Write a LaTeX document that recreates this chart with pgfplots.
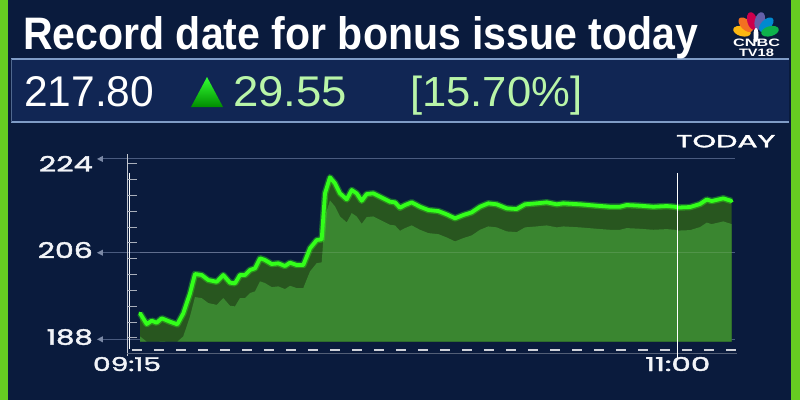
\documentclass[border=0pt]{standalone}
\usepackage{pgfplots}
\pgfplotsset{compat=1.18}
\usepackage{pgfplotstable}
\usepackage{graphicx}
\usepackage{fontspec}
\setmainfont{Liberation Sans}
\newfontfamily\geo[FakeBold=1.8]{Poppins}

\definecolor{navy}{HTML}{0A1B3D}
\definecolor{boxnavy}{HTML}{112654}
\definecolor{boxline}{HTML}{7F9CC6}
\definecolor{barg}{HTML}{66CC22}
\definecolor{lineg}{HTML}{33FF1A}
\definecolor{darkg}{HTML}{28561F}
\definecolor{fillg}{HTML}{3A8630}
\definecolor{paleg}{HTML}{B9F5A8}
\definecolor{gridc}{HTML}{5A6C90}
\definecolor{labc}{HTML}{F2F4F8}
\definecolor{nbcY}{HTML}{FCB711}
\definecolor{nbcO}{HTML}{F37021}
\definecolor{nbcR}{HTML}{CC004C}
\definecolor{nbcP}{HTML}{6460AA}
\definecolor{nbcB}{HTML}{0089D0}
\definecolor{nbcG}{HTML}{0DB14B}

% minutes after 09:15, price
\pgfplotstableread{
m v
2.48 193.41
3.76 191.18
4.71 191.87
5.66 191.45
6.62 192.37
8.20 191.66
9.59 191.12
10.73 193.41
12.01 197.56
12.96 201.58
14.24 201.37
15.50 200.33
17.10 199.96
18.36 201.37
19.64 199.77
20.59 199.64
21.54 201.37
22.50 201.37
23.45 202.41
24.40 202.76
25.36 204.84
26.31 204.49
27.59 203.65
28.85 203.80
30.12 203.24
31.08 203.93
32.35 203.45
33.61 203.45
34.89 206.92
36.17 208.64
37.12 208.79
37.75 218.35
38.70 221.68
39.66 220.43
40.61 218.35
41.89 217.10
42.84 219.04
43.79 218.35
44.75 216.81
45.70 218.21
46.96 218.35
48.24 217.65
50.14 216.61
51.10 216.48
52.05 215.36
53.00 215.92
54.28 216.48
55.86 215.57
57.45 214.88
59.35 214.67
60.95 213.98
62.54 213.16
64.12 213.84
65.72 214.40
67.30 215.57
68.88 216.27
70.49 216.07
72.39 215.23
74.30 215.09
75.88 216.07
78.11 216.27
80.02 216.48
81.93 216.07
83.18 216.27
86.37 216.07
89.55 215.78
92.09 215.57
93.99 215.57
95.27 215.92
97.81 215.78
100.34 215.57
102.90 215.71
104.48 215.57
105.05 215.40
107.34 215.50
109.25 216.13
110.52 217.06
111.48 216.75
113.69 217.31
115.29 216.75
}\price

\begin{document}
\begin{tikzpicture}[x=1pt,y=1pt]
\useasboundingbox (0,0) rectangle (800,400);
\fill[navy] (0,0) rectangle (800,400);
\fill[barg] (0,0) rectangle (8,400);
\fill[barg] (791,0) rectangle (800,400);

% price strip
\fill[boxnavy] (11,278) rectangle (789,341);
\draw[boxline, line width=1.2pt] (11,341) -- (789,341);
\draw[boxline, line width=1.5pt] (11,278) -- (789,278);
\draw[boxline!60!navy, line width=0.8pt] (11,278) -- (11,341);

% title
\node[anchor=base west, inner sep=0, text=white] at (23,351)
  {\resizebox{675pt}{33pt}{\bfseries Record date for bonus issue today}};

% price row
\node[anchor=base west, inner sep=0, text=white] at (24,294) {\resizebox{130pt}{30pt}{217.80}};
\shade[bottom color=green!55!black, top color=green!80!white] (191,293) -- (223,293) -- (207,323) -- cycle;
\node[anchor=base west, inner sep=0, text=paleg] at (233,294) {\resizebox{114pt}{30pt}{29.55}};
\node[anchor=base west, inner sep=0, text=paleg] at (410,294) {\resizebox{172pt}{30.5pt}{[15.70\%]}};

% logo
\foreach \ang/\col in {165/nbcY,135/nbcO,105/nbcR,75/nbcP,45/nbcB,15/nbcG}{
  \begin{scope}[shift={(756,365)}, rotate=\ang]
    \fill[\col] (14.5,0) ellipse (9 and 5);
  \end{scope}
}
\fill[white] (756,365) ellipse (2.5 and 7);
\node[anchor=base, inner sep=0, text=white] at (756.5,353.5) {\resizebox{47pt}{7.5pt}{\bfseries CNBC}};
\node[anchor=base, inner sep=0, text=white] at (756.5,344) {\resizebox{35pt}{7.5pt}{\bfseries TV18}};

% TODAY
\node[anchor=base west, inner sep=0, text=white] at (676,252.7) {\resizebox{99pt}{12.3pt}{\geo TODAY}};

\begin{axis}[
  at={(127pt,47pt)}, anchor=south west,
  width=610pt, height=203pt, scale only axis,
  xmin=0, xmax=116.3, ymin=185.15, ymax=227.36,
  clip=false,
  axis line style={draw=none},
  tick style={draw=none},
  major tick length=0pt,
  xtick={0,105},
  xticklabels={{\resizebox{68pt}{14pt}{\geo 09:15}},{\resizebox{65pt}{14pt}{\geo 11:00}}},
  ytick={188,206,224},
  yticklabels={{\resizebox{46pt}{15.5pt}{\geo 188}},{\resizebox{55pt}{16pt}{\geo 206}},{\resizebox{54pt}{15.5pt}{\geo 224}}},
  tick label style={text=labc, inner sep=0pt},
  yticklabel style={anchor=base east, xshift=-34pt, yshift=-5.3pt},
  xticklabel style={anchor=base, yshift=-18pt},
]
% grid lines with small pointers
\pgfplotsinvokeforeach{225.5,206,188}{
  \draw[gridc, opacity=0.8, line width=1pt] (axis cs:-4.6,#1) -- (axis cs:115.9,#1);
  \fill[gridc!80!white] (axis cs:-5.72,#1) -- (axis cs:-4.58,#1+0.65) -- (axis cs:-4.58,#1-0.65) -- cycle;
}

% area, shadow band and line
\addplot[draw=none, fill=darkg] table[x=m, y=v] {\price}
  -- (axis cs:115.29,187.5) -- (axis cs:2.48,187.5) -- cycle;
\addplot[draw=none, fill=fillg] table[x=m, y expr={max(\thisrow{v}-4.8,187.5)}] {\price}
  -- (axis cs:115.29,187.5) -- (axis cs:2.48,187.5) -- cycle;
\draw[white, opacity=0.12, line width=1pt] (axis cs:2.48,206) -- (axis cs:115.29,206);
\addplot[lineg, opacity=0.35, line width=6.5pt, line join=round] table[x=m, y=v] {\price};
\addplot[lineg, line width=3.8pt, line join=round, line cap=round] table[x=m, y=v] {\price};

% y axis line and small ticks
\draw[white!75!navy, line width=1pt] (axis cs:0,226.5) -- (axis cs:0,184.6);
\draw[white, line width=1.2pt] (axis cs:0.55,222.6) -- (axis cs:0.55,185.9);
\pgfplotsinvokeforeach{224.65,221.33,218.0,214.67,211.35,208.23,204.9,201.58,198.25,194.92,191.6,188.48}{
  \draw[white!65!navy, line width=0.8pt] (axis cs:0.2,#1) -- (axis cs:1.9,#1);
}

% x axis
\draw[white!30!navy, line width=0.6pt] (axis cs:0,185.15) -- (axis cs:116.3,185.15);
\draw[white!80!navy, line width=1.6pt, dash pattern=on 10pt off 12pt] (axis cs:0.95,185.78) -- (axis cs:116.3,185.78);

% 11:00 marker
\draw[white, line width=1.4pt] (axis cs:105,222.6) -- (axis cs:105,184.2);
\end{axis}
\end{tikzpicture}
\end{document}
